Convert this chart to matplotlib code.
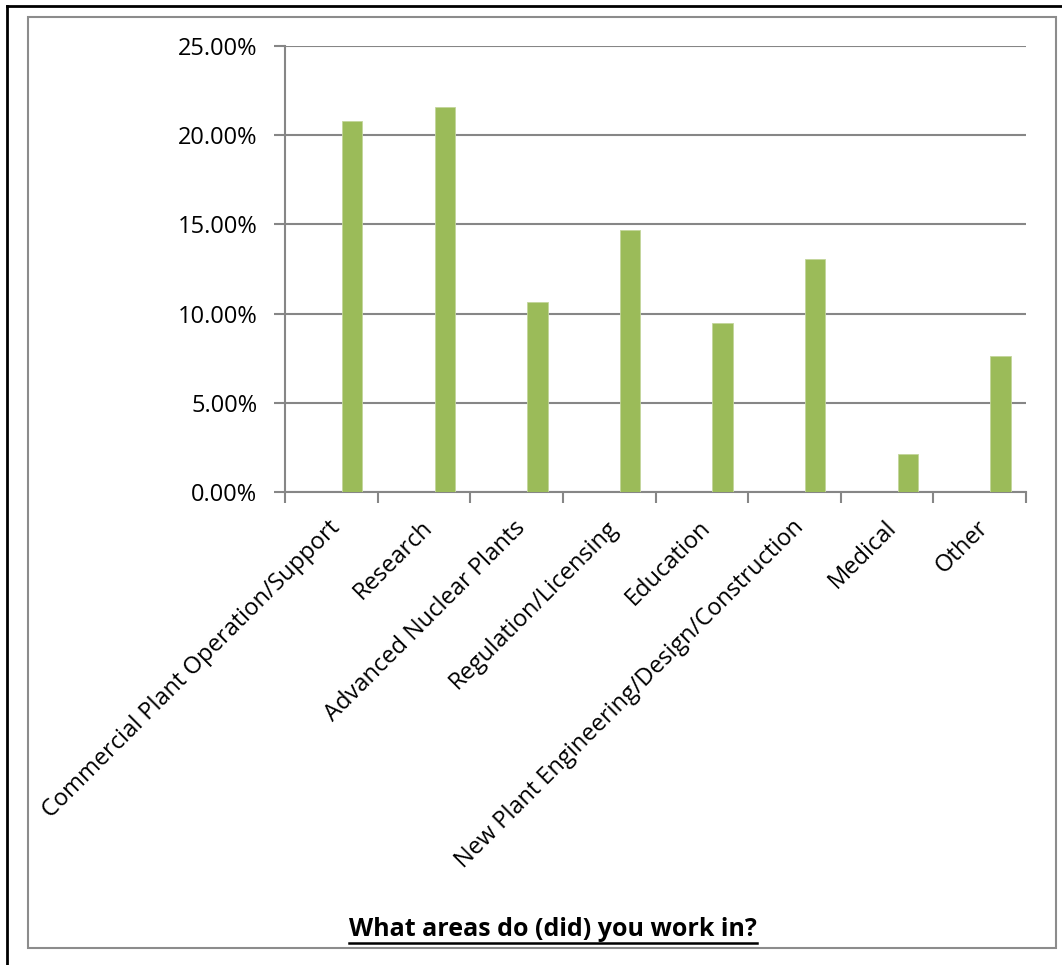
import matplotlib
matplotlib.use("Agg")
import matplotlib.pyplot as plt
from matplotlib.ticker import FuncFormatter, FixedLocator, NullFormatter
from matplotlib.lines import Line2D
from matplotlib.patches import Rectangle
from matplotlib.transforms import ScaledTranslation

categories = ["Commercial Plant Operation/Support", "Research", "Advanced Nuclear Plants",
              "Regulation/Licensing", "Education", "New Plant Engineering/Design/Construction",
              "Medical", "Other"]
values = [0.208, 0.216, 0.1065, 0.147, 0.0947, 0.1304, 0.0213, 0.0762]
yticks = [0.0, 0.05, 0.10, 0.15, 0.20, 0.25]
title = "What areas do (did) you work in?"

plt.rcParams['font.family'] = ['Open Sans', 'DejaVu Sans']

W, H = 1062, 965
fig = plt.figure(figsize=(W / 100, H / 100), dpi=100)
ax = fig.add_axes([285 / W, 1 - 492 / H, (1026 - 285) / W, (492 - 46) / H])

grid_c = "#868686"
x = list(range(len(categories)))
bar_x = [i + 0.225 for i in x]
ax.bar(bar_x, values, width=0.22, color="#9BBB59", edgecolor="#C3D69B", linewidth=0.6, zorder=3)
ax.set_xlim(-0.5, len(categories) - 0.5)
ax.set_ylim(0, 0.25)
ax.set_yticks(yticks)
ax.yaxis.set_major_formatter(FuncFormatter(lambda v, p: f"{v*100:.2f}%"))
ax.grid(axis="y", color=grid_c, linewidth=1.5, zorder=0)
ax.set_axisbelow(True)
for s in ["top", "right"]:
    ax.spines[s].set_visible(False)
for s in ["left", "bottom"]:
    ax.spines[s].set_color(grid_c)
    ax.spines[s].set_linewidth(1.5)
ax.tick_params(axis="y", direction="out", length=8, width=1.5, color=grid_c, labelsize=17, pad=12)

# category boundary ticks
ax.xaxis.set_major_locator(FixedLocator([i - 0.5 for i in range(len(categories) + 1)]))
ax.xaxis.set_major_formatter(NullFormatter())
ax.set_xticks(x, categories, minor=True)
ax.tick_params(axis="x", which="major", direction="out", length=8, width=1.5, color=grid_c)
ax.tick_params(axis="x", which="minor", length=0, labelsize=17, pad=17)
shift = ScaledTranslation(-3 / 100, 0, fig.dpi_scale_trans)
for lbl in ax.get_xticklabels(minor=True):
    lbl.set_rotation(45)
    lbl.set_ha("right")
    lbl.set_va("top")
    lbl.set_rotation_mode("anchor")
    lbl.set_transform(lbl.get_transform() + shift)

# title at bottom, bold underlined
t = fig.text(553 / W, 1 - 929 / H, title, ha="center", va="center", fontsize=18, fontweight="bold")
fig.canvas.draw()
bb = t.get_window_extent()
uy = (bb.y0 - 1) / H
fig.add_artist(Line2D([bb.x0 / W, bb.x1 / W], [uy, uy], color="black", linewidth=1.8))

# inner gray frame
fig.add_artist(Rectangle((28 / W, 1 - 948 / H), (1056 - 28) / W, (948 - 17) / H,
                         transform=fig.transFigure, fill=False, edgecolor="#8C8C8C", linewidth=1.5))
# outer black border lines (top and left)
fig.add_artist(Line2D([7 / W, 1], [1 - 6 / H, 1 - 6 / H], color="black", linewidth=2))
fig.add_artist(Line2D([7 / W, 7 / W], [0, 1 - 6 / H], color="black", linewidth=2))

fig.savefig("out.png", dpi=100)
